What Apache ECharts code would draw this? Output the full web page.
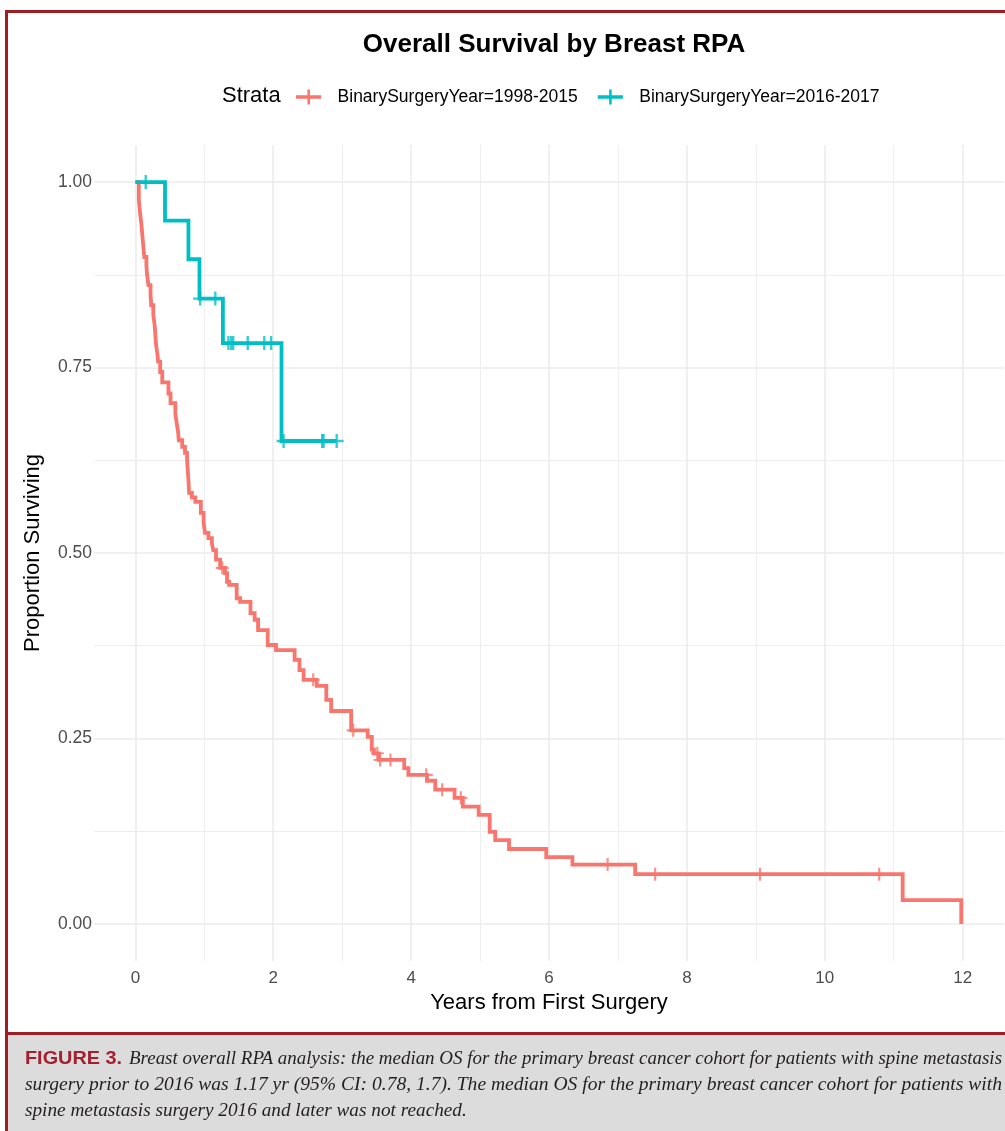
<!DOCTYPE html>
<html>
<head>
<meta charset="utf-8">
<script src="https://cdn.jsdelivr.net/npm/echarts@6/dist/echarts.min.js"></script>
<style>
  html, body { margin: 0; padding: 0; background: #ffffff; }
  #chart { width: 1005px; height: 1131px; }
</style>
</head>
<body>
<div id="chart"></div>
<script>
// Kaplan-Meier estimates: event times (years) and survival after each step
const redName = 'BinarySurgeryYear=1998-2015';
const redTime = [0, 0.05, 0.07, 0.09, 0.10, 0.12, 0.13, 0.16, 0.17, 0.19, 0.22, 0.23, 0.26, 0.28, 0.29, 0.30,
  0.32, 0.33, 0.36, 0.39, 0.48, 0.51, 0.58, 0.60, 0.62, 0.63, 0.68, 0.72, 0.75, 0.76, 0.77, 0.78, 0.82, 0.87,
  0.95, 0.99, 1.01, 1.06, 1.11, 1.13, 1.17, 1.23, 1.30, 1.33, 1.36, 1.47, 1.52, 1.67, 1.73, 1.78, 1.92, 2.04,
  2.31, 2.38, 2.44, 2.63, 2.77, 2.84, 3.13, 3.37, 3.43, 3.46, 3.53, 3.90, 3.96, 4.23, 4.35, 4.63, 4.75, 4.98,
  5.14, 5.22, 5.42, 5.96, 6.34, 7.25, 11.13, 11.98];
const redSurv = [1.000, 0.976, 0.957, 0.941, 0.930, 0.908, 0.899, 0.888, 0.875, 0.861, 0.848, 0.834, 0.821, 0.807, 0.794, 0.781,
  0.768, 0.758, 0.744, 0.730, 0.715, 0.702, 0.688, 0.675, 0.663, 0.652, 0.643, 0.635, 0.625, 0.612, 0.598, 0.581, 0.575, 0.569,
  0.554, 0.541, 0.527, 0.520, 0.513, 0.504, 0.491, 0.480, 0.473, 0.461, 0.457, 0.439, 0.434, 0.419, 0.410, 0.396, 0.376, 0.369,
  0.356, 0.342, 0.329, 0.321, 0.302, 0.287, 0.261, 0.252, 0.235, 0.230, 0.221, 0.210, 0.201, 0.193, 0.181, 0.170, 0.158, 0.147,
  0.124, 0.113, 0.101, 0.090, 0.080, 0.067, 0.032, 0.000];
const redCensor = [1.26, 2.58, 3.16, 3.51, 3.55, 3.70, 4.22, 4.45, 4.72, 6.85, 7.54, 9.06, 10.79];

const blueName = 'BinarySurgeryYear=2016-2017';
const blueTime = [0, 0.43, 0.77, 0.93, 1.27, 2.12];
const blueSurv = [1.000, 0.948, 0.896, 0.843, 0.783, 0.651];
const blueCensor = [0.15, 0.94, 1.16, 1.35, 1.39, 1.42, 1.63, 1.87, 1.97, 2.15, 2.71, 2.73, 2.92];
const blueLastFollowUp = 2.92;

// Axis tick labels
const xTickLabels = ['0', '2', '4', '6', '8', '10', '12'];
const yTickLabels = ['0.00', '0.25', '0.50', '0.75', '1.00'];

const RED = '#F8766D';
const BLUE = '#00BFC4';
const FONT = '"Liberation Sans", Arial, sans-serif';

// value of a step function right after time t
function survAt(times, surv, t) {
  let s = surv[0];
  for (let i = 0; i < times.length; i++) { if (times[i] <= t) s = surv[i]; }
  return s;
}
function stepData(times, surv, endTime) {
  const d = times.map((t, i) => [t, surv[i]]);
  if (endTime != null && endTime > times[times.length - 1]) d.push([endTime, surv[surv.length - 1]]);
  return d;
}
function censorData(cTimes, times, surv) {
  return cTimes.map(t => [t, survAt(times, surv, t)]);
}

const PLUS = 'path://M5,0H7V5H12V7H7V12H5V7H0V5H5Z';
const KEY = 'path://M0,6H26V9.5H0Z M11.8,0H14.4V15.5H11.8Z';

// caption fitting
const measureCtx = document.createElement('canvas').getContext('2d');
function fitScale(text, font, width) {
  measureCtx.font = font;
  return width / measureCtx.measureText(text).width;
}
const capBold = 'bold 19px "Liberation Sans"';
const capItal = 'italic 19px "Liberation Serif"';
const cap0 = 'FIGURE 3.';
const cap1 = 'Breast overall RPA analysis: the median OS for the primary breast cancer cohort for patients with spine metastasis';
const cap2 = 'surgery prior to 2016 was 1.17 yr (95% CI: 0.78, 1.7). The median OS for the primary breast cancer cohort for patients with';
const cap3 = 'spine metastasis surgery 2016 and later was not reached.';
const s0 = fitScale(cap0, capBold, 97);
const s1 = fitScale(cap1, capItal, 873);
const s2 = fitScale(cap2, capItal, 977);
const s3 = (s1 + s2) / 2;

const chart = echarts.init(document.getElementById('chart'), null, { renderer: 'canvas' });

const option = {
  backgroundColor: '#ffffff',
  animation: false,
  title: {
    text: 'Overall Survival by Breast RPA',
    left: 549,
    top: 27,
    textAlign: 'center',
    textStyle: { fontFamily: FONT, fontSize: 26, fontWeight: 'bold', color: '#000000' }
  },
  legend: {
    left: 296,
    top: 88,
    padding: 0,
    itemWidth: 26,
    itemHeight: 15,
    itemGap: 20,
    selectedMode: false,
    textStyle: { fontFamily: FONT, fontSize: 17.5, color: '#000000', padding: [0, 0, 0, 11] },
    itemStyle: { borderWidth: 0 },
    data: [
      { name: redName, icon: KEY },
      { name: blueName, icon: KEY }
    ]
  },
  grid: { left: 94, right: 1, top: 145, bottom: 170, containLabel: false },
  xAxis: {
    type: 'value',
    min: -0.6,
    max: 12.6,
    minInterval: 2,
    maxInterval: 2,
    splitNumber: 7,
    name: 'Years from First Surgery',
    nameLocation: 'middle',
    nameGap: 30,
    nameTextStyle: { fontFamily: FONT, fontSize: 22, color: '#000000' },
    axisLine: { show: false },
    axisTick: { show: false },
    axisLabel: {
      fontFamily: FONT, fontSize: 17, color: '#4d4d4d', margin: 9,
      showMinLabel: false, showMaxLabel: false,
      formatter: v => { const i = Math.round(v / 2); return (Math.abs(v - i * 2) < 1e-6 && xTickLabels[i] != null) ? xTickLabels[i] : ''; }
    },
    splitLine: { show: true, showMinLine: false, showMaxLine: false, lineStyle: { color: '#ebebeb', width: 1.5 } },
    minorTick: { show: false, splitNumber: 2 },
    minorSplitLine: { show: true, lineStyle: { color: '#eeeeee', width: 1 } }
  },
  yAxis: {
    type: 'value',
    min: -0.05,
    max: 1.05,
    minInterval: 0.25,
    maxInterval: 0.25,
    splitNumber: 5,
    name: 'Proportion Surviving',
    nameLocation: 'middle',
    nameGap: 50,
    nameTextStyle: { fontFamily: FONT, fontSize: 22, color: '#000000' },
    axisLine: { show: false },
    axisTick: { show: false },
    axisLabel: {
      fontFamily: FONT, fontSize: 17.5, color: '#4d4d4d', margin: 2,
      showMinLabel: false, showMaxLabel: false,
      formatter: v => { const i = Math.round(v / 0.25); return (Math.abs(v - i * 0.25) < 1e-6 && yTickLabels[i] != null) ? yTickLabels[i] : ''; }
    },
    splitLine: { show: true, showMinLine: false, showMaxLine: false, lineStyle: { color: '#ebebeb', width: 1.5 } },
    minorTick: { show: false, splitNumber: 2 },
    minorSplitLine: { show: true, lineStyle: { color: '#eeeeee', width: 1 } }
  },
  series: [
    {
      name: redName, type: 'line', step: 'end', color: RED,
      showSymbol: false, symbol: 'none',
      lineStyle: { color: RED, width: 3.8, cap: 'butt', join: 'miter' },
      data: stepData(redTime, redSurv), z: 2
    },
    {
      name: redName, type: 'scatter', color: RED, symbol: PLUS, symbolSize: 13,
      itemStyle: { color: RED },
      data: censorData(redCensor, redTime, redSurv), z: 3
    },
    {
      name: blueName, type: 'line', step: 'end', color: BLUE,
      showSymbol: false, symbol: 'none',
      lineStyle: { color: BLUE, width: 3.8, cap: 'butt', join: 'miter' },
      data: stepData(blueTime, blueSurv, blueLastFollowUp), z: 4
    },
    {
      name: blueName, type: 'scatter', color: BLUE, symbol: PLUS, symbolSize: 14,
      itemStyle: { color: BLUE },
      data: censorData(blueCensor, blueTime, blueSurv), z: 5
    }
  ],
  graphic: [
    { type: 'text', x: 222, y: 96, style: { text: 'Strata', font: '22px "Liberation Sans"', fill: '#000000', verticalAlign: 'middle' } },
    // page frame and caption panel
    { type: 'rect', shape: { x: 5, y: 10, width: 1000, height: 3 }, style: { fill: '#a01d24' } },
    { type: 'rect', shape: { x: 5, y: 10, width: 3, height: 1121 }, style: { fill: '#a01d24' } },
    { type: 'rect', shape: { x: 8, y: 1035, width: 997, height: 96 }, style: { fill: '#dcdcdc' } },
    { type: 'rect', shape: { x: 5, y: 1032, width: 1000, height: 3 }, style: { fill: '#a01d24' } },
    { type: 'text', x: 25, y: 1059, scaleX: s0, style: { text: cap0, font: capBold, fill: '#a3202f', verticalAlign: 'middle' } },
    { type: 'text', x: 129, y: 1059, scaleX: s1, style: { text: cap1, font: capItal, fill: '#231f20', verticalAlign: 'middle' } },
    { type: 'text', x: 25, y: 1085, scaleX: s2, style: { text: cap2, font: capItal, fill: '#231f20', verticalAlign: 'middle' } },
    { type: 'text', x: 25, y: 1111, scaleX: s3, style: { text: cap3, font: capItal, fill: '#231f20', verticalAlign: 'middle' } }
  ]
};

chart.setOption(option);
</script>
</body>
</html>
